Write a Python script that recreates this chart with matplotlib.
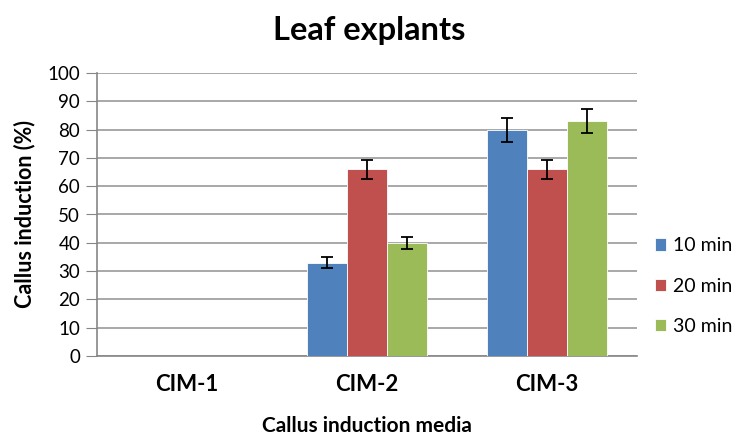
import numpy as np
import matplotlib
matplotlib.use("Agg")
import matplotlib.pyplot as plt

plt.rcParams['font.family'] = ['Lato', 'DejaVu Sans']

### Data
categories = ['CIM-1', 'CIM-2', 'CIM-3']
series_names = ['10 min', '20 min', '30 min']
vals_10 = [0, 33, 80]
vals_20 = [0, 66, 66]
vals_30 = [0, 40, 83]
err_10 = [0, 1.9, 4.2]
err_20 = [0, 3.3, 3.3]
err_30 = [0, 2.1, 4.2]
colors = ['#4F81BD', '#C0504D', '#9BBB59']

fig = plt.figure(figsize=(7.39, 4.40), dpi=100)
ax = fig.add_axes([0.131, 0.191, 0.731, 0.643])

x = np.arange(len(categories))
w = 0.222
for k, (vals, errs) in enumerate([(vals_10, err_10), (vals_20, err_20), (vals_30, err_30)]):
    pos = x + (k - 1) * w
    ax.bar(pos, vals, w, color=colors[k], edgecolor='white', linewidth=0.6,
           label=series_names[k], zorder=3)
    # only draw error bars where there is a value
    m = np.array(vals) > 0
    ax.errorbar(pos[m], np.array(vals)[m], yerr=np.array(errs)[m], fmt='none',
                ecolor='black', elinewidth=1.3, capsize=4.5, capthick=1.3, zorder=4)

ax.set_xlim(-0.5, 2.5)
ax.set_ylim(0, 100)
ax.set_yticks(np.arange(0, 101, 10))
ax.set_xticks(x)
ax.set_xticklabels(categories, fontsize=16, fontweight='bold')
ax.tick_params(axis='x', length=0, pad=13)
ax.tick_params(axis='y', labelsize=13.5, length=8, color='#868686', pad=4, direction='out')
ax.yaxis.grid(True, color='#9a9a9a', linewidth=1.2, zorder=0)
ax.set_axisbelow(True)
for s in ['top', 'right']:
    ax.spines[s].set_visible(False)
ax.spines['left'].set_color('#868686')
ax.spines['bottom'].set_color('#868686')
ax.spines['left'].set_linewidth(1.2)
ax.spines['bottom'].set_linewidth(1.2)

ax.set_ylabel('Callus induction (%)', fontsize=15.5, fontweight='bold', labelpad=9)
ax.set_xlabel('Callus induction media', fontsize=15, fontweight='bold', labelpad=15)
fig.text(0.5, 0.93, 'Leaf explants', ha='center', va='center', fontsize=23.5, fontweight='bold')

ax.legend(loc='center left', bbox_to_anchor=(1.0, 0.247), frameon=False, fontsize=14,
          handlelength=0.6, handleheight=0.6, labelspacing=1.2, handletextpad=0.35)

fig.savefig('out.png', dpi=100)
